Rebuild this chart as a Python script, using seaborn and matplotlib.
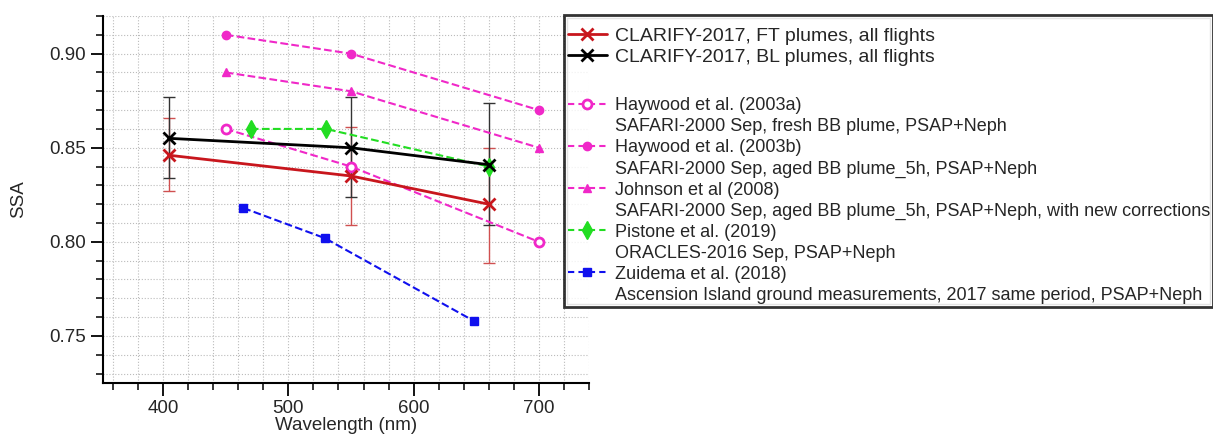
import matplotlib
matplotlib.use("Agg")
import matplotlib.pyplot as plt
import seaborn as sns
import pandas as pd
from matplotlib.lines import Line2D
from matplotlib.patches import Rectangle
from matplotlib.transforms import IdentityTransform
from matplotlib.ticker import MultipleLocator, FormatStrFormatter

# CLARIFY-2017 (this study)
wl_clarify = [405, 550, 660]
ssa_ft = [0.846, 0.835, 0.820]
ft_low = [0.827, 0.809, 0.789]
ft_high = [0.866, 0.861, 0.850]
ssa_bl = [0.855, 0.850, 0.841]
bl_low = [0.834, 0.824, 0.809]
bl_high = [0.877, 0.877, 0.874]

# literature values
wl_haywood = [450, 550, 700]
ssa_haywood_a = [0.86, 0.84, 0.80]
ssa_haywood_b = [0.91, 0.90, 0.87]
ssa_johnson = [0.89, 0.88, 0.85]
wl_pistone = [470, 530, 660]
ssa_pistone = [0.86, 0.86, 0.84]
wl_zuidema = [464, 529, 648]
ssa_zuidema = [0.818, 0.802, 0.758]

red = "#c8161d"
magenta = "#f028c8"
green = "#22dd22"
blue = "#1010ee"

sns.set_style("ticks")
plt.rcParams["font.family"] = ["Liberation Sans", "DejaVu Sans"]

fig = plt.figure(figsize=(12.13, 4.41), dpi=100)
ax = fig.add_axes([0.0849, 0.1315, 0.4007, 0.8322])

dash = (3, 2)
styles = {
    "hay_a": dict(color=magenta, marker="o", markersize=6.5, markerfacecolor="white",
                  markeredgecolor=magenta, markeredgewidth=2, linestyle="--", dashes=dash, linewidth=1.5),
    "hay_b": dict(color=magenta, marker="o", markersize=6, markerfacecolor=magenta,
                  markeredgecolor=magenta, markeredgewidth=1, linestyle="--", dashes=dash, linewidth=1.5),
    "johnson": dict(color=magenta, marker="^", markersize=6, markerfacecolor=magenta,
                    markeredgecolor=magenta, markeredgewidth=1, linestyle="--", dashes=dash, linewidth=1.5),
    "pistone": dict(color=green, marker="d", markersize=9, markerfacecolor=green,
                    markeredgecolor=green, markeredgewidth=1, linestyle="--", dashes=dash, linewidth=1.5),
    "zuidema": dict(color=blue, marker="s", markersize=6, markerfacecolor=blue,
                    markeredgecolor=blue, markeredgewidth=1, linestyle="--", dashes=dash, linewidth=1.5),
    "ft": dict(color=red, marker="x", markersize=9, markeredgecolor=red,
               markeredgewidth=2, linestyle="-", linewidth=2),
    "bl": dict(color="black", marker="x", markersize=9, markeredgecolor="black",
               markeredgewidth=2, linestyle="-", linewidth=2),
}

series = [
    ("hay_a", wl_haywood, ssa_haywood_a),
    ("hay_b", wl_haywood, ssa_haywood_b),
    ("johnson", wl_haywood, ssa_johnson),
    ("pistone", wl_pistone, ssa_pistone),
    ("zuidema", wl_zuidema, ssa_zuidema),
]
for key, x, y in series:
    df = pd.DataFrame({"wl": x, "ssa": y})
    sns.lineplot(data=df, x="wl", y="ssa", ax=ax, zorder=3, **styles[key])

# error bars for CLARIFY
ax.errorbar(wl_clarify, ssa_ft,
            yerr=[[m - lo for m, lo in zip(ssa_ft, ft_low)], [hi - m for m, hi in zip(ssa_ft, ft_high)]],
            fmt="none", ecolor="#d05050", elinewidth=1, capsize=4, capthick=1, zorder=2)
ax.errorbar(wl_clarify, ssa_bl,
            yerr=[[m - lo for m, lo in zip(ssa_bl, bl_low)], [hi - m for m, hi in zip(ssa_bl, bl_high)]],
            fmt="none", ecolor="#333333", elinewidth=1, capsize=4, capthick=1, zorder=2)

for key, y in [("ft", ssa_ft), ("bl", ssa_bl)]:
    df = pd.DataFrame({"wl": wl_clarify, "ssa": y})
    sns.lineplot(data=df, x="wl", y="ssa", ax=ax, zorder=4, **styles[key])

ax.set_xlim(352, 740)
ax.set_ylim(0.725, 0.92)
ax.xaxis.set_major_locator(MultipleLocator(100))
ax.xaxis.set_minor_locator(MultipleLocator(20))
ax.yaxis.set_major_locator(MultipleLocator(0.05))
ax.yaxis.set_minor_locator(MultipleLocator(0.01))
ax.yaxis.set_major_formatter(FormatStrFormatter("%.2f"))
ax.grid(which="both", linestyle=":", color="#bbbbbb", linewidth=0.8)
ax.tick_params(which="major", direction="out", length=9, width=1.3, labelsize=13.5, color="black")
ax.tick_params(which="minor", direction="out", length=5, width=1.1, color="black")
sns.despine(ax=ax)
for side in ["left", "bottom"]:
    ax.spines[side].set_linewidth(1.5)
    ax.spines[side].set_color("black")
ax.set_xlabel("Wavelength (nm)", fontsize=13.5, labelpad=0)
ax.set_ylabel("SSA", fontsize=13.5, labelpad=16)

blank = Line2D([], [], linestyle="none")
handles = [
    Line2D([], [], **styles["ft"]),
    Line2D([], [], **styles["bl"]),
    blank,
    Line2D([], [], **styles["hay_a"]), blank,
    Line2D([], [], **styles["hay_b"]), blank,
    Line2D([], [], **styles["johnson"]), blank,
    Line2D([], [], **styles["pistone"]), blank,
    Line2D([], [], **styles["zuidema"]), blank,
]
labels = [
    "CLARIFY-2017, FT plumes, all flights",
    "CLARIFY-2017, BL plumes, all flights",
    " ",
    "Haywood et al. (2003a)",
    "SAFARI-2000 Sep, fresh BB plume, PSAP+Neph",
    "Haywood et al. (2003b)",
    "SAFARI-2000 Sep, aged BB plume_5h, PSAP+Neph",
    "Johnson et al (2008)",
    "SAFARI-2000 Sep, aged BB plume_5h, PSAP+Neph, with new corrections",
    "Pistone et al. (2019)",
    "ORACLES-2016 Sep, PSAP+Neph",
    "Zuidema et al. (2018)",
    "Ascension Island ground measurements, 2017 same period, PSAP+Neph",
]
leg = fig.legend(handles, labels, loc="upper left", bbox_to_anchor=(564 / 1213, 1 - 15 / 441),
                 bbox_transform=fig.transFigure, fontsize=13, numpoints=1,
                 handlelength=2.2, handletextpad=0.4, labelspacing=0.22,
                 borderpad=0.2, borderaxespad=0, frameon=True, fancybox=False,
                 title=" ", title_fontsize=4)
leg.get_frame().set_edgecolor("black")
leg.get_frame().set_linewidth(2)
texts = leg.get_texts()
for t in texts[:2]:
    t.set_fontsize(14)
texts[2].set_fontsize(19)

# inner line of the double legend frame
fig.canvas.draw()
bb = leg.get_window_extent()
fig.add_artist(Rectangle((bb.x0 + 3, bb.y0 + 3), bb.width - 6, bb.height - 6, fill=False,
                         edgecolor="#777777", linewidth=1, transform=IdentityTransform()))

fig.savefig("out.png", dpi=100)
